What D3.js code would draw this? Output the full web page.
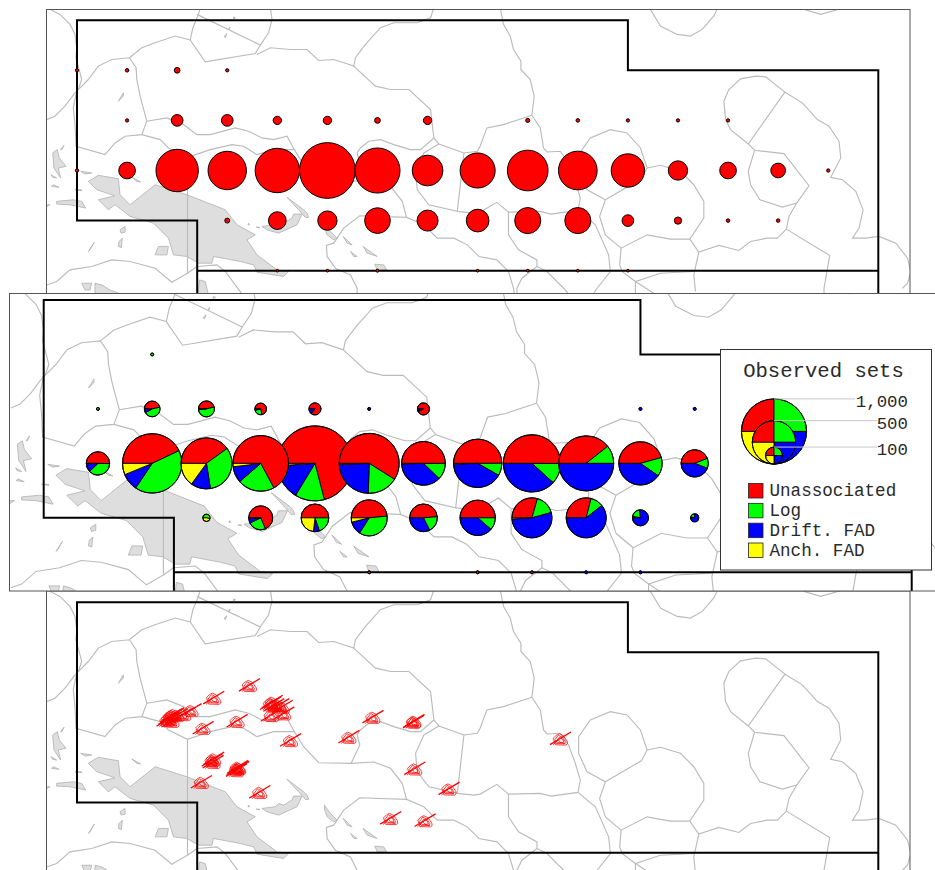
<!DOCTYPE html>
<html>
<head>
<meta charset="utf-8">
<script src="https://cdn.jsdelivr.net/npm/d3@7"></script>
<style>
  body { margin: 0; background: #fff; }
  text { font-family: "Liberation Mono", monospace; fill: #2a2a2a; }
</style>
</head>
<body>
<script>
// Legend
const gearNames = ["Unassociated", "Log", "Drift. FAD", "Anch. FAD"];
const gearColors = ["#ff0000", "#00ff00", "#0000ff", "#ffff00"];
const sizeLegend = [1000, 500, 100];

// Top panel: [lon, lat, sets]
const topCells = [
  [130, 10, 7], [135, 10, 8], [140, 10, 18], [145, 10, 7],
  [135, 5, 7], [140, 5, 61], [145, 5, 61], [150, 5, 34], [155, 5, 34], [160, 5, 18], [165, 5, 34],
  [175, 5, 10], [180, 5, 8], [185, 5, 7], [190, 5, 7], [195, 5, 7],
  [130, 0, 7], [135, 0, 112], [140, 0, 551], [145, 0, 465], [150, 0, 596], [155, 0, 880], [160, 0, 612],
  [165, 0, 318], [170, 0, 398], [175, 0, 514], [180, 0, 471], [185, 0, 366], [190, 0, 144], [195, 0, 112],
  [200, 0, 90], [205, 0, 7],
  [145, -5, 14], [150, -5, 124], [155, -5, 144], [160, -5, 234], [165, -5, 166], [170, -5, 189],
  [175, -5, 240], [180, -5, 240], [185, -5, 61], [190, -5, 27], [195, -5, 8], [200, -5, 8],
  [150, -10, 5], [155, -10, 5], [160, -10, 6], [170, -10, 5], [175, -10, 5], [180, -10, 5], [185, -10, 5]
];

// Middle panel: [lon, lat, [unassociated, log, drift FAD, anch FAD]]
const middleCells = [
  [140, 10, [0, 5, 0, 0]],
  [135, 5, [0, 5, 0, 0]], [140, 5, [41, 40, 7, 0]], [145, 5, [42, 48, 1, 0]], [150, 5, [38, 13, 2, 0]],
  [155, 5, [48, 1, 7, 0]], [160, 5, [0, 0, 5, 0]], [165, 5, [52, 1, 3, 0]], [185, 5, [0, 0, 5, 0]], [190, 5, [0, 0, 5, 0]],
  [135, 0, [87, 65, 21, 0]], [140, 0, [367, 354, 80, 53]], [145, 0, [264, 214, 82, 99]], [150, 0, [514, 164, 72, 15]],
  [155, 0, [904, 162, 195, 13]], [160, 0, [513, 144, 208, 5]], [165, 0, [253, 62, 189, 2]], [170, 0, [300, 50, 248, 3]],
  [175, 0, [403, 94, 308, 0]], [180, 0, [295, 80, 375, 0]], [185, 0, [228, 70, 201, 0]], [190, 0, [100, 27, 100, 0]],
  [145, -5, [0, 13, 0, 11]], [150, -5, [125, 44, 12, 1]], [155, -5, [116, 46, 16, 54]], [160, -5, [176, 129, 44, 14]],
  [165, -5, [113, 44, 75, 0]], [170, -5, [176, 40, 136, 0]], [175, -5, [128, 71, 232, 4]], [180, -5, [126, 45, 264, 0]],
  [185, -5, [3, 18, 70, 0]], [190, -5, [1, 6, 21, 0]],
  [160, -10, [5, 0, 0, 0]], [170, -10, [5, 0, 0, 0]], [175, -10, [5, 0, 0, 0]], [180, -10, [0, 0, 5, 0]], [185, -10, [0, 0, 5, 0]]
];

// Bottom panel: [lon, lat] of each set
const bottomSets = [
  [147.2, 6.75], [143.63, 5.48], [141.37, 4.25],
  [139.13, 3.42], [139.3, 3.65], [139.47, 3.75], [139.63, 3.85], [138.97, 3.25], [139.97, 3.75], [140.63, 3.85], [139.47, 3.18],
  [142.57, 2.48], [145.97, 3.18],
  [149.47, 5.08], [149.3, 4.92], [149.63, 4.75], [150.13, 4.75], [150.47, 4.58], [149.37, 3.75], [150.63, 3.92],
  [151.3, 1.25], [157.13, 1.58], [159.53, 3.58], [163.57, 3.08], [163.63, 3.18], [163.7, -1.58], [167.13, -3.58],
  [161.3, -6.52], [164.73, -6.75], [148.23, -3.92], [142.4, -2.92],
  [143.63, -0.58], [143.57, -0.92], [143.47, -0.75],
  [145.97, -1.58], [146.03, -1.42], [145.9, -1.75], [146.13, -1.52],
  [178.25, 1.42]
];

// Convention area outline
const areaLines = [
  [[142, -14], [142, -5], [130, -5], [130, 15], [185, 15], [185, 10], [210, 10], [210, -14]],
  [[142, -10], [210, -10]]
];

// EEZ boundaries
const eezLines = [
  [[126.9, 16.4], [127.3, 16.08], [128.3, 15.58], [129.3, 14.58], [129.8, 13.58], [129.97, 12.25], [129.9, 11.25], [130.3, 9.75], [130.47, 9.08], [130.13, 8.08], [129.8, 7.75], [128.8, 6.42], [127.8, 5.42], [126.97, 5.08]],
  [[129.97, 7.92], [129.63, 6.25], [129.8, 4.58], [129.9, 2.42], [132.8, 1.58], [133.8, 2.75], [134.8, 3.42], [136.47, 3.58], [136.97, 4.92], [136.3, 7.42], [135.97, 9.08], [135.9, 10.25], [135.23, 11.25], [133.47, 11.08], [132.13, 10.42], [131.13, 9.08], [130.13, 8.08]],
  [[135.23, 11.25], [136.47, 12.25], [137.8, 12.75], [139.8, 13.42], [141.3, 13.02], [142.8, 10.85], [147.8, 11.68], [148.3, 12.52], [149.13, 13.75], [149.47, 15.08], [149.3, 16.25]],
  [[141.3, 13.02], [141.57, 14.25], [142.13, 15.58], [142.3, 16.25]],
  [[141.97, 15.58], [148.3, 12.52]],
  [[147.97, 11.58], [149.3, 12.25], [151.3, 12.08], [152.97, 12.08], [154.13, 10.98], [155.63, 11.08], [157.63, 10.42], [157.8, 11.25], [158.8, 12.58], [160.3, 14.25], [161.63, 14.75], [163.97, 14.75], [165.3, 15.25], [165.63, 16.25]],
  [[157.63, 10.42], [159.8, 8.42], [161.3, 8.08], [163.13, 8.08], [165.3, 6.08], [165.63, 3.25], [164.3, 2.08], [163.3, 2.08], [161.63, 2.58], [160.3, 3.08], [159.13, 2.92], [158.3, 2.25], [157.97, 1.75], [158.23, 0.75], [157.37, -1.08], [154.13, -1.02], [152.63, 0.58], [151.7, 2.08], [150.97, 3.42], [149.63, 3.08], [148.47, 3.25], [147.13, 3.92], [145.8, 4.25], [143.3, 3.58], [141.97, 3.58], [140.63, 4.58], [138.97, 5.25], [136.97, 4.92]],
  [[136.47, 3.58], [138.3, 3.08], [139.13, 2.25], [141.03, 1.32], [143.3, 2.08], [145.47, 2.58], [146.63, 2.42], [147.97, 1.58], [149.63, 2.08], [151.7, 2.08]],
  [[141.03, 1.32], [141.03, -10.25], [139.47, -11.15], [137.8, -9.75], [135.3, -9.08], [133.47, -8.92], [131.47, -9.58], [129.3, -9.92], [127.97, -11.08], [126.97, -11.42]],
  [[141.03, -10.25], [141.97, -9.58], [143.97, -9.42], [144.8, -10.08], [146.3, -12.08], [147, -13]],
  [[157.37, -1.08], [159.63, -0.95], [161.3, -1.58], [162.47, -3.08], [162.9, -4.68], [158.23, -4.52], [156.63, -5.75], [155.63, -7.25], [154.9, -7.48], [154.97, -8.58], [155.8, -9.75], [157.3, -10.42], [157.97, -11.75], [157.97, -12.75]],
  [[162.9, -4.68], [164.63, -5.42], [165.97, -6.75], [167.63, -6.75], [168.97, -7.42], [170.13, -8.58], [171.92, -8.92], [173.08, -10.08], [173.58, -11.75], [173.75, -13.08]],
  [[165.63, 3.25], [166.13, 2.65], [168.63, 1.75], [169.97, 1.92], [170.25, 2.42], [170.92, 4.25], [172.58, 4.58], [175.42, 5.52]],
  [[166.13, 2.65], [164.63, 1.75], [163.8, -0.08], [163.97, -1.92], [165.13, -3.42], [167.97, -4.08], [168.63, 1.75]],
  [[167.97, -4.08], [169.63, -4.25], [170.25, -4.15], [171.92, -3.18], [173.08, -4.15]],
  [[172.25, 16.25], [172.58, 14.58], [173.25, 13.42], [173.58, 12.08], [174.32, 10.92], [174.32, 10.08], [175.25, 9.08], [175.65, 7.42], [175.42, 5.52]],
  [[175.42, 5.52], [176.25, 4.25], [176.58, 2.25], [176.92, 1.85], [178.25, 1.92], [179.08, 0.75], [179.75, -1.08], [180.25, -2.75], [180.02, -3.98], [177.32, -4.35], [176.25, -4.08], [173.08, -4.15]],
  [[173.08, -4.15], [173.08, -6.42], [174.08, -7.92], [175.92, -8.92], [175.92, -9.58], [176.92, -10.08], [178.58, -11.75], [179.75, -13.08]],
  [[175.92, -9.58], [174.42, -10.75], [173.92, -11.75], [173.92, -13.08]],
  [[180.02, -3.98], [181.75, -5.42], [183.08, -8.42], [183.25, -10.08], [181.92, -11.75], [181.25, -12.75]],
  [[182.75, -2.92], [180.92, -1.92], [180.08, -0.08], [180.08, 1.58], [181.25, 3.25], [183.25, 4.08], [184.92, 3.75], [186.25, 2.25], [186.92, 0.25], [186.35, -0.82], [182.75, -2.92]],
  [[186.92, 0.25], [188.25, 0.52], [190.25, -0.08], [191.58, -1.42], [192.58, -3.08], [192.58, -4.75], [191.18, -6.85], [189.25, -6.85], [186.92, -6.42], [184.32, -7.75], [182.75, -6.42], [182.18, -4.58], [182.75, -2.92]],
  [[184.32, -7.75], [184.18, -9.42], [184.42, -10.08], [185.75, -11.08], [188.25, -10.25], [191.58, -10.08]],
  [[185.75, -11.08], [187.58, -12.25]],
  [[185.75, -11.08], [185.75, -12.5]],
  [[191.18, -6.85], [192.08, -8.15], [194.08, -7.48], [196.08, -7.98], [197.25, -7.08], [198.92, -6.75], [199.92, -6.75], [200.82, -5.85], [205.15, -8.48], [204.58, -11.75], [204.58, -13]],
  [[192.08, -8.15], [191.58, -10.42], [191.75, -12.08]],
  [[200.82, -5.85], [201.08, -4.58], [201.85, -3.25], [203.08, -1.52], [200.58, 1.68], [197.65, 2.02], [197.02, 2.65], [200.68, 7.82], [198.75, 9.35], [197.75, 9.42], [196.25, 9.15], [195.08, 8.08], [194.58, 6.92], [194.75, 5.08], [195.25, 4.08], [197.02, 2.65]],
  [[200.68, 7.82], [202.42, 6.75], [203.92, 5.08], [205.08, 4.42], [206.08, 2.92], [206.25, 1.25], [205.25, -0.68], [206.42, -0.92], [207.75, -2.08], [208.48, -3.92], [208.08, -5.75], [207.42, -6.75], [208.75, -6.75], [210.08, -6.58], [211.75, -7.25], [212.92, -8.75], [213.25, -10.08], [212.92, -11.25], [212.42, -11.75]],
  [[197.65, 2.02], [197.02, -0.08], [197.25, -1.42], [198.18, -2.92], [200.42, -3.65], [201.85, -3.25]],
  [[187.25, 16.08], [188.25, 14.42], [189.92, 13.58], [191.25, 13.42], [192.42, 14.08], [193.58, 15.42], [193.98, 16.25]],
  [[202.58, 16.08], [204.25, 15.58], [206.25, 16.15]]
];

// Land
const landShapes = [
  // New Guinea
  [[131.13, -1.08], [132.13, -0.48], [134.13, -0.82], [134.3, -2.42], [135.3, -3.42], [137.8, -1.42], [140.97, -2.42], [144.8, -3.92], [145.97, -5.42], [147.8, -6.42], [146.97, -6.92], [147.97, -8.42], [149.97, -9.92], [151.13, -10.08], [150.63, -10.58], [147.97, -10.15], [147.63, -9.42], [146.3, -9.08], [143.63, -8.58], [143.47, -9.25], [142.13, -9.25], [140.97, -8.58], [139.63, -8.42], [139.13, -6.75], [137.63, -5.25], [135.3, -4.58], [133.8, -3.42], [133.13, -3.92], [132.13, -2.92], [133.8, -2.52], [131.97, -1.92]],
  [[137.8, -8.42], [138.13, -7.58], [139.13, -7.58], [138.97, -8.42]],
  // Moluccas
  [[127.57, 1.75], [128.03, 2.08], [128.23, 1.25], [128.9, 0.42], [128.13, 0.25], [128.37, -0.75], [127.7, 0.25]],
  [[128.37, 2.08], [128.7, 2.52], [128.5, 2.08]],
  [[127.4, -0.42], [127.97, -0.75], [127.57, -0.68]],
  [[127.47, -1.58], [128.2, -1.68], [127.63, -1.42]],
  [[127.97, -3.08], [129.63, -2.92], [130.47, -3.08], [130.87, -3.75], [129.3, -3.42], [127.97, -3.35]],
  [[126.8, -3.42], [127.3, -3.42], [126.9, -3.68]],
  [[130.37, -0.08], [131.47, -0.25], [130.8, -0.35]],
  [[129.8, -1.92], [130.47, -1.92], [130.47, -2.02]],
  [[135.47, -0.65], [136.37, -1.15], [135.97, -1.08]],
  // Bismarck and Solomons
  [[148.47, -5.58], [149.8, -5.42], [150.13, -5.08], [150.63, -5.25], [151.47, -4.75], [151.63, -4.35], [152.47, -4.35], [151.97, -5.42], [150.13, -6.25], [148.97, -5.92]],
  [[150.97, -2.68], [152.63, -3.92], [152.97, -4.25], [153.13, -4.68], [152.8, -4.68], [152.13, -3.92]],
  [[154.7, -5.25], [155.3, -6.08], [155.97, -6.75], [155.63, -6.92], [154.97, -6.42], [154.73, -5.75]],
  [[156.57, -6.58], [157.47, -7.42], [156.97, -7.25]],
  [[158.57, -7.58], [159.97, -8.58], [158.97, -8.25]],
  [[157.3, -8.08], [157.97, -8.58], [157.63, -8.58]],
  [[159.73, -9.35], [160.63, -9.42], [160.9, -9.92], [159.97, -9.92]],
  [[147.13, -5.25], [147.23, -5.42], [147.07, -5.42]],
  [[147.9, -5.65], [148.23, -5.65], [148.23, -5.72]],
  // Carolines and Marianas
  [[144.7, 13.42], [144.97, 13.65], [144.8, 13.25]],
  [[145.63, 15.32], [145.83, 15.25], [145.63, 15.12]],
  [[145.13, 14.18], [145.3, 14.32], [145.2, 14.08]],
  [[134.13, 6.92], [134.63, 7.75], [134.63, 7.42]],
  // Arafura
  [[134.3, -5.92], [134.8, -5.58], [134.8, -6.15], [134.4, -6.25]],
  [[134.2, -7.08], [134.53, -6.75], [134.43, -7.68], [134.13, -7.58]],
  [[131.13, -8.08], [131.73, -7.15], [131.3, -7.92]],
  // Northern Australia
  [[130.47, -11.25], [131.47, -11.25], [131.3, -11.92], [130.8, -11.92]],
  [[131.8, -11.25], [132.47, -11.42], [133.3, -11.92], [134.63, -12.42], [131.8, -12.42]],
  [[142.13, -11.75], [142.23, -10.92], [142.8, -11.08], [143.13, -12.42], [142.13, -12.42]]
];

// Map panels, each with its own placement on the page
const panelTop = {
  x: d3.scaleLinear().domain([130, 210]).range([77, 878.3]),
  y: d3.scaleLinear().domain([15, -10]).range([20.2, 270.7]),
  box: [46.5, 9.5, 863.5, 284]
};
const panelBottom = {
  x: panelTop.x,
  y: d3.scaleLinear().domain([15, -10]).range([602.2, 852.7]),
  box: [46.5, 591, 863.5, 290]
};
const panelMiddle = {
  x: d3.scaleLinear().domain([130, 210]).range([43.7, 911.7]),
  y: d3.scaleLinear().domain([15, -10]).range([300, 572.3]),
  box: [9.5, 293.5, 940, 297.5]
};

// Circle radius in degrees of longitude
const radius = d3.scalePow().exponent(0.585).domain([0, 1000]).range([0, 3]);
const pie = d3.pie().sort(null).startAngle(-Math.PI / 2).endAngle(1.5 * Math.PI);
const arc = d3.arc().innerRadius(0);

const svg = d3.select("body").append("svg").attr("width", 935).attr("height", 870);

function drawBase(p, name) {
  svg.append("clipPath").attr("id", name).append("rect")
    .attr("x", p.box[0]).attr("y", p.box[1]).attr("width", p.box[2]).attr("height", p.box[3]);

  svg.append("rect")
    .attr("x", p.box[0]).attr("y", p.box[1]).attr("width", p.box[2]).attr("height", p.box[3])
    .attr("fill", "#fff");

  const g = svg.append("g").attr("clip-path", `url(#${name})`);
  const line = d3.line().x((d) => p.x(d[0])).y((d) => p.y(d[1]));

  g.append("g").selectAll("path").data(landShapes).join("path")
    .attr("d", (d) => line(d) + "Z")
    .attr("fill", "#dedede").attr("stroke", "#b0b0b0").attr("stroke-width", 0.8);

  g.append("g").selectAll("path").data(eezLines).join("path")
    .attr("d", line)
    .attr("fill", "none").attr("stroke", "#bbb").attr("stroke-width", 1.15);

  g.append("g").selectAll("path").data(areaLines).join("path")
    .attr("d", line)
    .attr("fill", "none").attr("stroke", "#000").attr("stroke-width", 2);

  return g;
}

function drawFrame(p) {
  svg.append("rect")
    .attr("x", p.box[0]).attr("y", p.box[1]).attr("width", p.box[2]).attr("height", p.box[3])
    .attr("fill", "none").attr("stroke", "#555").attr("stroke-width", 1);
}

function drawPie(g, cx, cy, r, values) {
  const pieG = g.append("g").attr("transform", `translate(${cx},${cy})`);
  pieG.selectAll("path").data(pie(values).filter((d) => d.value > 0)).join("path")
    .attr("d", (d) => arc({ ...d, outerRadius: r }))
    .attr("fill", (d) => gearColors[d.index])
    .attr("stroke", "#000").attr("stroke-width", 0.9).attr("stroke-linejoin", "round");
  pieG.append("circle").attr("r", r).attr("fill", "none").attr("stroke", "#000").attr("stroke-width", 1);
}

// Top panel
const gTop = drawBase(panelTop, "clip-top");
const pxTop = (panelTop.x(1) - panelTop.x(0));
gTop.append("g").selectAll("circle").data(topCells).join("circle")
  .attr("cx", (d) => panelTop.x(d[0]))
  .attr("cy", (d) => panelTop.y(d[1]))
  .attr("r", (d) => radius(d[2]) * pxTop)
  .attr("fill", "#ff0000").attr("stroke", "#000").attr("stroke-width", 1);
drawFrame(panelTop);

// Bottom panel
const gBottom = drawBase(panelBottom, "clip-bottom");
const markLine = [[-10.3, 6.3], [10.7, -6.3]];
const markLoops = [
  [[-7, 0], [-4, -3], [-1, -4.5], [3, -2.5], [7, 3], [7.2, 5.5], [5.5, 6.8], [-5, 6.5], [-7, 0]],
  [[-5.5, 1.5], [-2, -3], [2, -1], [5, 3.5], [4.5, 5.5], [-4, 5.2], [-5.5, 1.5]],
  [[-4, 3], [-1, -1], [2.5, 1], [3.5, 4], [-2.5, 4.5], [-4, 3]],
  [[-7.5, 6.8], [-2, 1.5], [0, 4], [5, 5.5]]
];
const markPath = d3.line();
const marks = gBottom.append("g").selectAll("g").data(bottomSets).join("g")
  .attr("transform", (d) => `translate(${panelBottom.x(d[0])},${panelBottom.y(d[1])})`)
  .attr("fill", "none").attr("stroke", "#ff0000");
marks.selectAll("path.loop").data(markLoops).join("path")
  .attr("class", "loop").attr("d", markPath).attr("stroke-width", 0.75);
marks.append("path").attr("d", markPath(markLine)).attr("stroke-width", 1.3);
drawFrame(panelBottom);

// Middle panel, largest first so the smaller pies sit on top
const gMiddle = drawBase(panelMiddle, "clip-middle");
const pxMiddle = (panelMiddle.x(1) - panelMiddle.x(0));
d3.sort(middleCells, (a, b) => d3.sum(b[2]) - d3.sum(a[2])).forEach((d) => {
  drawPie(gMiddle, panelMiddle.x(d[0]), panelMiddle.y(d[1]), radius(d3.sum(d[2])) * pxMiddle, d[2]);
});
drawFrame(panelMiddle);

// Legend box
const legend = svg.append("g");
legend.append("rect")
  .attr("x", 720.5).attr("y", 349.5).attr("width", 211).attr("height", 220.5)
  .attr("fill", "#fff").attr("stroke", "#333").attr("stroke-width", 1);
legend.append("text")
  .attr("x", 823.5).attr("y", 377).attr("text-anchor", "middle")
  .attr("font-size", 20.6).text("Observed sets");

const legendX = 774;
const legendBase = 464;
const leaderEnd = [855, 877, 877];
const labelY = [407, 429, 455];
sizeLegend.forEach((v, i) => {
  const r = radius(v) * pxMiddle;
  drawPie(legend, legendX, legendBase - r, r, [1, 1, 1, 1]);
});
sizeLegend.forEach((v, i) => {
  const r = radius(v) * pxMiddle;
  legend.append("line")
    .attr("x1", legendX).attr("x2", leaderEnd[i])
    .attr("y1", legendBase - 2 * r).attr("y2", legendBase - 2 * r)
    .attr("stroke", "#c8c8c8").attr("stroke-width", 1);
  legend.append("text")
    .attr("x", 908).attr("y", labelY[i]).attr("text-anchor", "end")
    .attr("font-size", 17.4).text(d3.format(",")(v));
});

const swatchY = d3.scalePoint().domain(gearNames).range([483.5, 543]);
legend.selectAll("rect.swatch").data(gearNames).join("rect")
  .attr("class", "swatch")
  .attr("x", 748.5).attr("y", (d) => swatchY(d))
  .attr("width", 14.5).attr("height", 14.5)
  .attr("fill", (d, i) => gearColors[i]).attr("stroke", "#222").attr("stroke-width", 0.8);
legend.selectAll("text.gear").data(gearNames).join("text")
  .attr("class", "gear")
  .attr("x", 769.5).attr("y", (d) => swatchY(d) + 12.5)
  .attr("font-size", 17.6).text((d) => d);
</script>
</body>
</html>
